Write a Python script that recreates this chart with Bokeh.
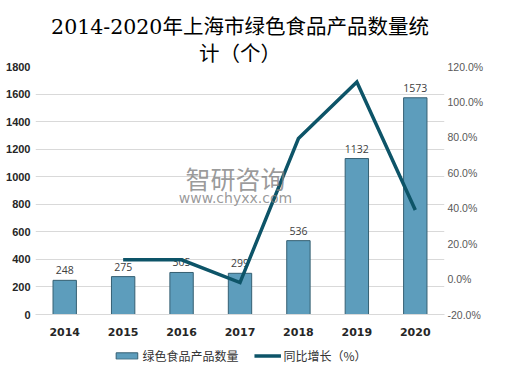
from bokeh.plotting import figure
from bokeh.layouts import column
from bokeh.models import (ColumnDataSource, FactorRange, Range1d, LinearAxis,
                          NumeralTickFormatter, FixedTicker, Legend, LegendItem,
                          Title, Label)
from bokeh.embed import file_html
from bokeh.resources import INLINE
from bokeh.core.properties import value

# ---- data ----
years = ["2014", "2015", "2016", "2017", "2018", "2019", "2020"]
counts = [248, 275, 305, 299, 536, 1132, 1573]
growth_years = ["2015", "2016", "2017", "2018", "2019", "2020"]
growth = [0.109, 0.109, -0.020, 0.793, 1.112, 0.390]
left_ticks = [0, 200, 400, 600, 800, 1000, 1200, 1400, 1600, 1800]
right_ticks = [-0.2, 0.0, 0.2, 0.4, 0.6, 0.8, 1.0, 1.2]
title_line1 = "2014-2020年上海市绿色食品产品数量统"
title_line2 = "计（个）"
bar_name = "绿色食品产品数量"
line_name = "同比增长（%）"

CJK = "Noto Sans CJK SC"
BAR_FILL = "#5d9dbc"
BAR_LINE = "#355f72"
LINE_COLOR = "#0d5468"

p = figure(x_range=FactorRange(*years), y_range=Range1d(0, 1800),
           width=489, height=345, output_backend="svg", toolbar_location=None,
           min_border_left=35, min_border_right=45,
           min_border_top=66, min_border_bottom=31)
p.extra_y_ranges = {"pct": Range1d(-0.2, 1.2)}
p.outline_line_color = None

src = ColumnDataSource(dict(year=years, count=counts,
                            label=[str(c) for c in counts]))
bars = p.vbar(x="year", top="count", width=0.4, source=src,
              fill_color=BAR_FILL, line_color=BAR_LINE, line_width=1)
p.text(x="year", y="count", text="label", source=src,
       text_align="center", text_baseline="bottom", y_offset=-6,
       text_font=value("Open Sans"), text_font_size="10.5px",
       text_color="#404040")

gsrc = ColumnDataSource(dict(year=growth_years, g=growth))
ln = p.line(x="year", y="g", source=gsrc, y_range_name="pct",
            line_width=3.5, line_color=LINE_COLOR, line_join="miter")

# watermark
p.add_layout(Label(x=200, y=137, x_units="screen", y_units="screen",
                   text="智研咨询", text_align="center", text_baseline="middle",
                   text_font=CJK, text_font_size="25px", text_color="#7f7f7f",
                   text_alpha=0.8))
p.add_layout(Label(x=200, y=117, x_units="screen", y_units="screen",
                   text="www.chyxx.com", text_align="center", text_baseline="middle",
                   text_font="DejaVu Sans", text_font_size="14px",
                   text_color="#7f7f7f", text_alpha=0.8))

# axes
p.yaxis.ticker = FixedTicker(ticks=left_ticks)
p.yaxis.axis_line_color = None
p.yaxis.major_tick_line_color = None
p.yaxis.minor_tick_line_color = None
p.yaxis.major_tick_out = 0
p.yaxis.major_label_text_font = "Liberation Sans"
p.yaxis.major_label_text_font_style = "bold"
p.yaxis.major_label_text_font_size = "11px"
p.yaxis.major_label_text_color = "#262626"
p.yaxis.major_label_standoff = 5

right = LinearAxis(y_range_name="pct", ticker=FixedTicker(ticks=right_ticks),
                   formatter=NumeralTickFormatter(format="0.0%"))
right.axis_line_color = None
right.major_tick_line_color = None
right.minor_tick_line_color = None
right.major_tick_out = 0
right.major_label_text_font = "Liberation Sans"
right.major_label_text_font_size = "10.5px"
right.major_label_text_color = "#595959"
right.major_label_standoff = 3
p.add_layout(right, "right")

p.xaxis.axis_line_color = "#d9d9d9"
p.xaxis.major_tick_line_color = None
p.xaxis.minor_tick_line_color = None
p.xaxis.major_tick_out = 0
p.xaxis.major_label_text_font = "DejaVu Sans"
p.xaxis.major_label_text_font_style = "bold"
p.xaxis.major_label_text_font_size = "11px"
p.xaxis.major_label_text_color = "#262626"
p.xaxis.major_label_standoff = 13

p.xgrid.grid_line_color = None
p.ygrid.grid_line_color = "#d9d9d9"

t2 = Title(text=title_line2, align="center", offset=6, standoff=1,
           text_font="DejaVu Serif, Noto Sans CJK SC",
           text_font_size="20.5px", text_font_style="normal", text_color="#000000")
t1 = Title(text=title_line1, align="center", offset=6, standoff=1,
           text_font="DejaVu Serif, Noto Sans CJK SC",
           text_font_size="20.5px", text_font_style="normal", text_color="#000000")
p.add_layout(t2, "above")
p.add_layout(t1, "above")

# legend strip below the chart (proxy renderers with the same styles, kept off-range)
p2 = figure(width=489, height=20, x_range=Range1d(0, 1), y_range=Range1d(0, 1),
            x_axis_location=None, y_axis_location=None, toolbar_location=None,
            output_backend="svg", min_border=0)
p2.outline_line_color = None
p2.grid.grid_line_color = None
r1 = p2.vbar(x=[-5], top=[-5], width=0.4, fill_color=BAR_FILL, line_color=BAR_LINE)
r2 = p2.line(x=[-5, -4], y=[-5, -5], line_width=3.5, line_color=LINE_COLOR)
legend = Legend(items=[LegendItem(label=bar_name, renderers=[r1]),
                       LegendItem(label=line_name, renderers=[r2])],
                orientation="horizontal", location="center",
                border_line_color=None, background_fill_alpha=0,
                glyph_width=27, glyph_height=8, label_standoff=3, spacing=15,
                padding=0, margin=0,
                label_text_font=CJK, label_text_font_size="12px",
                label_text_color="#333333")
p2.add_layout(legend, "center")

layout = column(p, p2, spacing=0)
open("out.html", "w").write(file_html(layout, INLINE))
